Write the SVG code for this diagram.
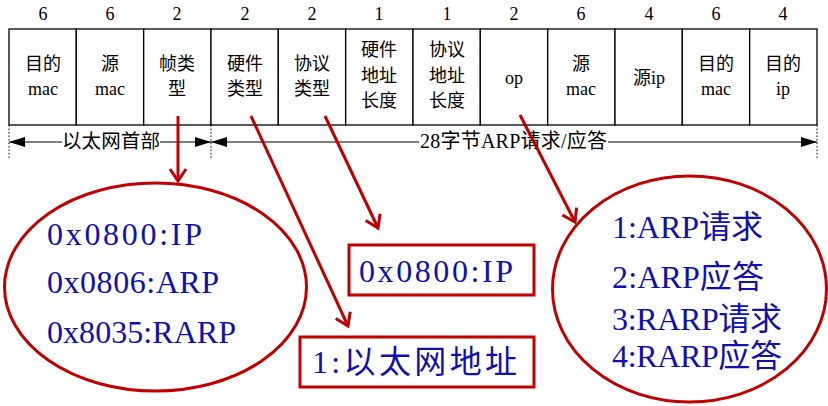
<svg xmlns="http://www.w3.org/2000/svg" width="828" height="406" viewBox="0 0 828 406">
<style>
.cell{fill:#fff;stroke:#000;stroke-width:1.3}
.t{font-family:"Liberation Serif","Noto Sans CJK SC",serif;font-size:18px;fill:#000;text-anchor:middle}
.num{font-family:"Liberation Serif",serif;font-size:18px;fill:#000;text-anchor:middle}
.dot{stroke:#000;stroke-width:1;stroke-dasharray:1.5 2}
.blk{stroke:#000;stroke-width:1.2;fill:none}
.red{stroke:#c00000;stroke-width:3;fill:none}
.shape{stroke:#c00000;stroke-width:3;fill:#fff}
.b{font-family:"Liberation Serif","Noto Sans CJK SC",serif;font-size:32px;fill:#1010b0}
</style>
<defs>
<marker id="tri" markerWidth="16" markerHeight="10" refX="16" refY="5" orient="auto-start-reverse" markerUnits="userSpaceOnUse">
<path d="M0,0 L16,5 L0,10 Z" fill="#000"/>
</marker>
<marker id="chev" markerWidth="20" markerHeight="20" refX="14" refY="10" orient="auto" markerUnits="userSpaceOnUse">
<path d="M2,2 L14,10 L2,18" fill="none" stroke="#c00000" stroke-width="3"/>
</marker>
</defs>
<rect width="828" height="406" fill="#fff"/>

<g id="sizes">
<text class="num" x="43" y="20">6</text>
<text class="num" x="110" y="20">6</text>
<text class="num" x="177" y="20">2</text>
<text class="num" x="245" y="20">2</text>
<text class="num" x="312" y="20">2</text>
<text class="num" x="379" y="20">1</text>
<text class="num" x="447" y="20">1</text>
<text class="num" x="514" y="20">2</text>
<text class="num" x="581" y="20">6</text>
<text class="num" x="649" y="20">4</text>
<text class="num" x="716" y="20">6</text>
<text class="num" x="783" y="20">4</text>
</g>

<g id="f-dstmac"><rect class="cell" x="9" y="29" width="67.3" height="96"/><text class="t" x="43" y="70">目的</text><text class="t" x="43" y="95">mac</text></g>
<g id="f-srcmac"><rect class="cell" x="76.3" y="29" width="67.3" height="96"/><text class="t" x="110" y="70">源</text><text class="t" x="110" y="95">mac</text></g>
<g id="f-frametype"><rect class="cell" x="143.7" y="29" width="67.3" height="96"/><text class="t" x="177" y="70">帧类</text><text class="t" x="177" y="95">型</text></g>
<g id="f-hwtype"><rect class="cell" x="211" y="29" width="67.3" height="96"/><text class="t" x="245" y="70">硬件</text><text class="t" x="245" y="95">类型</text></g>
<g id="f-prototype"><rect class="cell" x="278.3" y="29" width="67.3" height="96"/><text class="t" x="312" y="70">协议</text><text class="t" x="312" y="95">类型</text></g>
<g id="f-hwlen"><rect class="cell" x="345.7" y="29" width="67.3" height="96"/><text class="t" x="379" y="56">硬件</text><text class="t" x="379" y="82">地址</text><text class="t" x="379" y="107">长度</text></g>
<g id="f-protolen"><rect class="cell" x="413" y="29" width="67.3" height="96"/><text class="t" x="447" y="56">协议</text><text class="t" x="447" y="82">地址</text><text class="t" x="447" y="107">长度</text></g>
<g id="f-op"><rect class="cell" x="480.3" y="29" width="67.3" height="96"/><text class="t" x="514" y="84">op</text></g>
<g id="f-srcmac2"><rect class="cell" x="547.7" y="29" width="67.3" height="96"/><text class="t" x="581" y="70">源</text><text class="t" x="581" y="95">mac</text></g>
<g id="f-srcip"><rect class="cell" x="615" y="29" width="67.3" height="96"/><text class="t" x="649" y="84">源ip</text></g>
<g id="f-dstmac2"><rect class="cell" x="682.3" y="29" width="67.3" height="96"/><text class="t" x="716" y="70">目的</text><text class="t" x="716" y="95">mac</text></g>
<g id="f-dstip"><rect class="cell" x="749.7" y="29" width="67.3" height="96"/><text class="t" x="783" y="70">目的</text><text class="t" x="783" y="95">ip</text></g>

<g id="spans">
<line class="dot" x1="9" y1="125" x2="9" y2="160"/>
<line class="dot" x1="211" y1="125" x2="211" y2="160"/>
<line class="dot" x1="817" y1="125" x2="817" y2="160"/>
<line class="blk" x1="9" y1="142" x2="62" y2="142" marker-start="url(#tri)"/>
<line class="blk" x1="160" y1="142" x2="211" y2="142" marker-end="url(#tri)"/>
<text class="t" x="111" y="148" style="font-size:19.5px" textLength="98">以太网首部</text>
<line class="blk" x1="211" y1="142" x2="419" y2="142" marker-start="url(#tri)"/>
<line class="blk" x1="608" y1="142" x2="817" y2="142" marker-end="url(#tri)"/>
<text class="t" x="513.5" y="148" style="font-size:20px" textLength="187">28字节ARP请求/应答</text>
</g>

<g id="n-frametype-values">
<ellipse class="shape" cx="155.5" cy="287" rx="151" ry="104"/>
<text class="b" x="47" y="245" textLength="155">0x0800:IP</text>
<text class="b" x="47" y="293" textLength="172">0x0806:ARP</text>
<text class="b" x="47" y="343" textLength="189">0x8035:RARP</text>
</g>
<g id="n-prototype-value">
<rect class="shape" x="349" y="245" width="185" height="50"/>
<text class="b" x="359" y="282" textLength="154">0x0800:IP</text>
</g>
<g id="n-hwtype-value">
<rect class="shape" x="300" y="337" width="234" height="50"/>
<text class="b" x="312" y="373" textLength="205">1:以太网地址</text>
</g>
<g id="n-op-values">
<ellipse class="shape" cx="689.5" cy="289" rx="137" ry="113"/>
<text class="b" x="612" y="238" textLength="151">1:ARP请求</text>
<text class="b" x="612" y="288" textLength="152">2:ARP应答</text>
<text class="b" x="612" y="330" textLength="170">3:RARP请求</text>
<text class="b" x="612" y="367" textLength="170">4:RARP应答</text>
</g>

<g id="connectors">
<line class="red" x1="178" y1="116" x2="178" y2="181" marker-end="url(#chev)"/>
<line class="red" x1="251" y1="116" x2="348" y2="326" marker-end="url(#chev)"/>
<line class="red" x1="325" y1="116" x2="378" y2="228" marker-end="url(#chev)"/>
<line class="red" x1="520" y1="115" x2="575" y2="222" marker-end="url(#chev)"/>
</g>
</svg>
